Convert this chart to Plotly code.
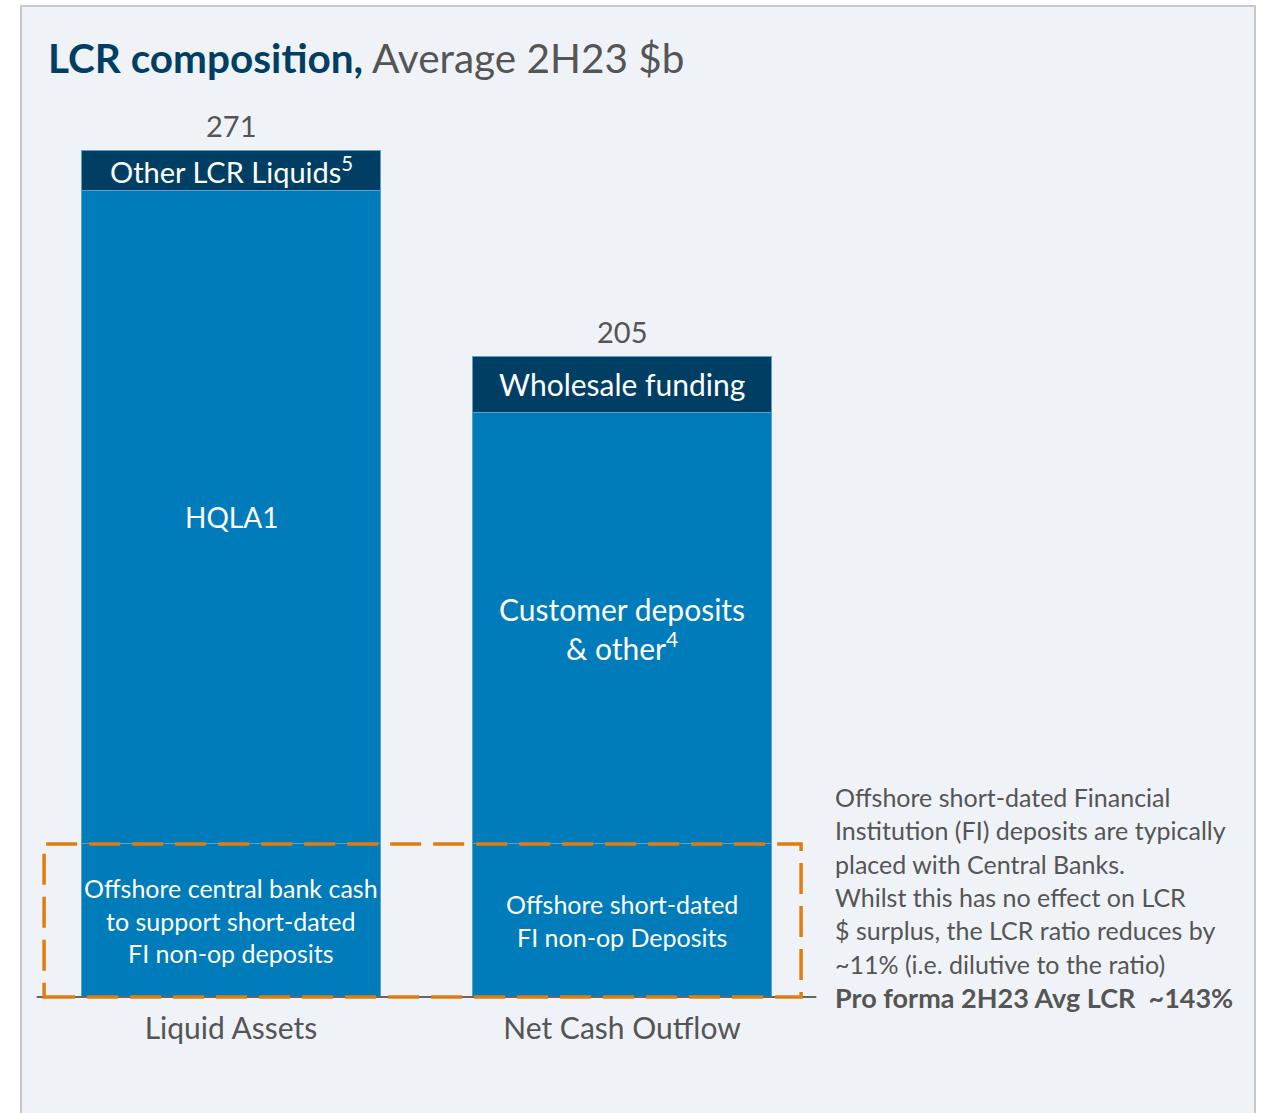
import plotly.graph_objects as go

# ---- data ----
categories = ["Liquid Assets", "Net Cash Outflow"]
offshore = [49, 49]
middle = [209, 138]
top = [13, 18]
totals = [271, 205]
offshore_labels = ["Offshore central bank cash<br>to support short-dated<br>FI non-op deposits",
                   "Offshore short-dated<br>FI non-op Deposits"]
middle_labels = ["HQLA1", "Customer deposits<br>& other<sup>4</sup>"]
top_labels = ["Other LCR Liquids<sup>5</sup>", "Wholesale funding"]
note_lines = ["Offshore short-dated Financial",
              "Institution (FI) deposits are typically",
              "placed with Central Banks.",
              "Whilst this has no effect on LCR",
              "$ surplus, the LCR ratio reduces by",
              "~11% (i.e. dilutive to the ratio)"]
note_bold = "Pro forma 2H23 Avg LCR  ~143%"

# ---- style ----
W, H = 1265, 1113
FONT = "Lato"
BLUE = "#007cba"
NAVY = "#003f63"
GRAY = "#555555"
ORANGE = "#e07d10"
PANEL = "#eff3f7"

def px_x(p):
    return p / W

def px_y(p):
    return 1 - p / H

base_px = 997
top_px = 97
pad_px = 6
ppu = 3.125
ymax = (base_px - top_px) / ppu
ymin = -pad_px / ppu

fig = go.Figure()
line = dict(color="#5d9fcb", width=1)
fig.add_bar(x=categories, y=offshore, marker=dict(color=BLUE, line=line), width=0.767)
fig.add_bar(x=categories, y=middle, marker=dict(color=BLUE, line=line), width=0.767)
fig.add_bar(x=categories, y=top, marker=dict(color=NAVY, line=line), width=0.767)

top_sizes = [29, 30]
mid_sizes = [28, 30]
ann = []
for i, c in enumerate(categories):
    ann.append(dict(x=c, y=totals[i], text=str(totals[i]), showarrow=False, yanchor="bottom",
                    yshift=5, font=dict(size=29, color=GRAY, family=FONT)))
    ann.append(dict(x=c, y=offshore[i] + middle[i] + top[i] / 2, text=top_labels[i], showarrow=False,
                    font=dict(size=top_sizes[i], color="white", family=FONT)))
    ann.append(dict(x=c, y=offshore[i] + middle[i] / 2, text=middle_labels[i], showarrow=False,
                    font=dict(size=mid_sizes[i], color="white", family=FONT)))
    ann.append(dict(x=c, y=offshore[i] / 2, text=offshore_labels[i], showarrow=False,
                    font=dict(size=25, color="white", family=FONT)))

# title
ann.append(dict(xref="paper", yref="paper", x=px_x(46), y=px_y(57), xanchor="left", yanchor="middle",
                showarrow=False,
                text=f"<b>LCR composition,</b><span style='color:{GRAY}'> Average 2H23 $b</span>",
                font=dict(size=40.5, color=NAVY, family=FONT)))

# right note
for k, t in enumerate(note_lines):
    ann.append(dict(xref="paper", yref="paper", x=px_x(833), y=px_y(797 + 33.3 * k),
                    xanchor="left", yanchor="middle", showarrow=False, text=t,
                    font=dict(size=25, color=GRAY, family=FONT)))
ann.append(dict(xref="paper", yref="paper", x=px_x(833), y=px_y(997),
                xanchor="left", yanchor="middle", showarrow=False, text=f"<b>{note_bold}</b>",
                font=dict(size=27, color=GRAY, family=FONT)))

shapes = [
    dict(type="rect", xref="paper", yref="paper", x0=px_x(21), x1=px_x(1255), y0=-0.02, y1=px_y(6),
         fillcolor=PANEL, line=dict(color="#c8c8c8", width=2), layer="below"),
    dict(type="line", xref="x", yref="y", x0=-0.497, x1=1.497, y0=0, y1=0,
         line=dict(color="#666666", width=2)),
    dict(type="rect", xref="x", yref="y", x0=-0.478, x1=1.458, y0=0, y1=offshore[0],
         line=dict(color=ORANGE, width=3.5, dash="31px,12px")),
]

fig.update_layout(
    barmode="stack", width=W, height=H, showlegend=False,
    margin=dict(l=0, r=0, t=0, b=0),
    paper_bgcolor="white", plot_bgcolor="rgba(0,0,0,0)",
    annotations=ann, shapes=shapes,
    xaxis=dict(domain=[px_x(35.5), px_x(1013)], range=[-0.5, 2.0], showgrid=False, zeroline=False,
               showline=False, ticks="", tickfont=dict(size=30, color=GRAY, family=FONT),
               ticklabelstandoff=11 - pad_px),
    yaxis=dict(domain=[px_y(base_px + pad_px), px_y(top_px)], range=[ymin, ymax], visible=False),
)

fig.write_html("out.html", config={"displayModeBar": False},
               post_script="document.body.style.margin='0';document.body.style.overflow='hidden';")
